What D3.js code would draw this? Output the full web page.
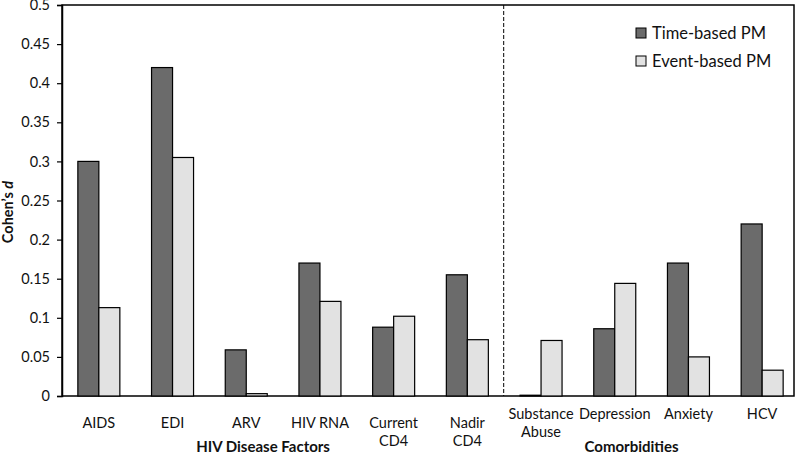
<!DOCTYPE html>
<html>
<head>
<meta charset="utf-8">
<script src="https://cdn.jsdelivr.net/npm/d3@7"></script>
<style>
    body { margin: 0; background: #fff; }
    svg { font-family: Lato, 'Open Sans', sans-serif; }
</style>
</head>
<body>
<div id="chart"></div>
<script>
var categories = ['AIDS', 'EDI', 'ARV', 'HIV RNA', 'Current\nCD4', 'Nadir\nCD4',
    'Substance\nAbuse', 'Depression', 'Anxiety', 'HCV'];
var timeBased = [0.300, 0.420, 0.059, 0.170, 0.088, 0.155, 0.001, 0.086, 0.170, 0.220];
var eventBased = [0.113, 0.305, 0.003, 0.121, 0.102, 0.072, 0.071, 0.144, 0.050, 0.033];
var seriesNames = ['Time-based PM', 'Event-based PM'];
var groupNames = ['HIV Disease Factors', 'Comorbidities'];
var groupSpans = [[0, 5], [6, 9]];
var yTicks = [0, 0.05, 0.1, 0.15, 0.2, 0.25, 0.3, 0.35, 0.4, 0.45, 0.5];

var width = 800, height = 454;
var plot = {left: 62, top: 5, right: 794, bottom: 396};
var colors = ['#6b6b6b', '#e2e2e2'];

var svg = d3.select('#chart').append('svg')
    .attr('width', width)
    .attr('height', height);

var x = d3.scaleBand()
    .domain(d3.range(categories.length))
    .range([plot.left, 799]);

var xSub = d3.scaleBand()
    .domain([0, 1])
    .range([0, 42]);

var y = d3.scaleLinear()
    .domain([0, 0.5])
    .range([plot.bottom, plot.top]);

// frame
svg.append('rect')
    .attr('x', plot.left)
    .attr('y', plot.top)
    .attr('width', plot.right - plot.left)
    .attr('height', plot.bottom - plot.top)
    .attr('fill', 'none')
    .attr('stroke', '#000')
    .attr('stroke-width', 1.5);

// divider between groups
svg.append('line')
    .attr('x1', x(6) - 0.5).attr('x2', x(6) - 0.5)
    .attr('y1', plot.top).attr('y2', plot.bottom)
    .attr('stroke', '#000')
    .attr('stroke-width', 1)
    .attr('stroke-dasharray', '4,2');

var rows = categories.map(function (c, i) {
    return {i: i, values: [timeBased[i], eventBased[i]]};
});

var groups = svg.append('g').selectAll('g')
    .data(rows)
    .enter().append('g')
    .attr('transform', function (d) {
        return 'translate(' + (x(d.i) + x.bandwidth() / 2 - 21) + ',0)';
    });

groups.selectAll('rect')
    .data(function (d) { return d.values; })
    .enter().append('rect')
    .attr('x', function (d, j) { return xSub(j); })
    .attr('y', function (d) { return y(d); })
    .attr('width', xSub.bandwidth())
    .attr('height', function (d) { return y(0) - y(d); })
    .attr('fill', function (d, j) { return colors[j]; })
    .attr('stroke', '#000')
    .attr('stroke-width', 1.2);

// y axis
var yAxis = d3.axisLeft(y)
    .tickValues(yTicks)
    .tickSize(5)
    .tickPadding(7)
    .tickFormat(function (d) { return String(+d.toFixed(2)); });

var yAxisG = svg.append('g')
    .attr('transform', 'translate(' + plot.left + ',0)')
    .call(yAxis);
yAxisG.select('.domain').attr('stroke-width', 1.5);
yAxisG.selectAll('.tick line').attr('stroke-width', 1.2);
yAxisG.selectAll('text')
    .attr('font-size', 14.5)
    .attr('font-family', 'Lato, sans-serif')
    .attr('fill', '#111');

// y title
var yTitle = svg.append('text')
    .attr('transform', 'translate(13,212) rotate(-90)')
    .attr('text-anchor', 'middle')
    .attr('font-size', 14.5)
    .attr('font-weight', 'bold')
    .attr('fill', '#111');
yTitle.append('tspan').text('Cohen\u2019s ');
yTitle.append('tspan').attr('font-style', 'italic').text('d');

// category labels
var catLabels = svg.append('g').selectAll('text')
    .data(categories)
    .enter().append('text')
    .attr('text-anchor', 'middle')
    .attr('font-size', 14.5)
    .attr('fill', '#111')
    .attr('y', function (d, i) { return i >= 6 ? 419 : 428; });

catLabels.each(function (d, i) {
    var t = d3.select(this);
    d.split('\n').forEach(function (line, k) {
        t.append('tspan')
            .attr('x', x(i) + x.bandwidth() / 2)
            .attr('dy', k === 0 ? 0 : 18)
            .text(line);
    });
});

// group labels
svg.append('g').selectAll('text')
    .data(groupNames)
    .enter().append('text')
    .attr('x', function (d, i) {
        var s = groupSpans[i];
        return (x(s[0]) + x(s[1]) + x.bandwidth()) / 2 - 20;
    })
    .attr('y', 452)
    .attr('text-anchor', 'middle')
    .attr('font-size', 15)
    .attr('font-weight', 'bold')
    .attr('fill', '#111')
    .text(function (d) { return d; });

// legend
var legend = svg.append('g').selectAll('g')
    .data(seriesNames)
    .enter().append('g')
    .attr('transform', function (d, i) { return 'translate(636,' + (28 + i * 28) + ')'; });

legend.append('rect')
    .attr('width', 10)
    .attr('height', 10)
    .attr('fill', function (d, i) { return colors[i]; })
    .attr('stroke', '#000')
    .attr('stroke-width', 1);

legend.append('text')
    .attr('x', 16)
    .attr('y', 10.5)
    .attr('font-size', 16.5)
    .attr('fill', '#111')
    .text(function (d) { return d; });
</script>
</body>
</html>
